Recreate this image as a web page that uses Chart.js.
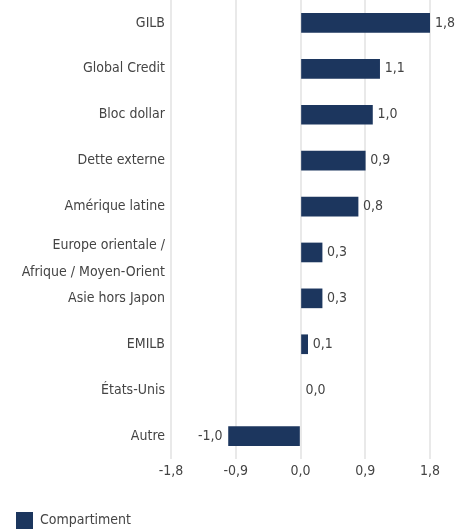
<!DOCTYPE html>
<html>
<head>
<meta charset="utf-8">
<script src="https://cdn.jsdelivr.net/npm/chart.js@4.4.1/dist/chart.umd.min.js"></script>
<style>
  html, body { margin: 0; padding: 0; background: #ffffff; }
  #wrap { width: 468px; height: 531px; position: relative; }
</style>
</head>
<body>
<div id="wrap"><canvas id="c"></canvas></div>
<script>
const categories = [
  'GILB',
  'Global Credit',
  'Bloc dollar',
  'Dette externe',
  'Amérique latine',
  ['', 'Europe orientale /', '', 'Afrique / Moyen-Orient'],
  'Asie hors Japon',
  'EMILB',
  'États-Unis',
  'Autre'
];
const compartiment = [1.8, 1.1, 1.0, 0.9, 0.8, 0.3, 0.3, 0.1, 0.0, -1.0];
const xTickValues = [-1.8, -0.9, 0.0, 0.9, 1.8];
const seriesName = 'Compartiment';

const FONT = "'Liberation Sans Narrow', 'Arial Narrow', 'DejaVu Sans Condensed', sans-serif";
const FSIZE = 14;
const TEXT = '#444444';
const BAR = '#1c365e';

function fmt(v) {
  return v.toFixed(1).replace('.', ',');
}

const valueLabels = {
  id: 'valueLabels',
  afterDatasetsDraw(chart) {
    const ctx = chart.ctx;
    ctx.save();
    ctx.font = FSIZE + 'px ' + FONT;
    ctx.fillStyle = TEXT;
    ctx.textBaseline = 'middle';
    chart.data.datasets.forEach((ds, di) => {
      const meta = chart.getDatasetMeta(di);
      meta.data.forEach((el, i) => {
        const v = ds.data[i];
        if (v < 0) {
          ctx.textAlign = 'right';
          ctx.fillText(fmt(v), el.x - 6, el.y);
        } else {
          ctx.textAlign = 'left';
          ctx.fillText(fmt(v), el.x + 5, el.y);
        }
      });
    });
    ctx.restore();
  }
};

new Chart(document.getElementById('c'), {
  type: 'bar',
  data: {
    labels: categories,
    datasets: [{
      label: seriesName,
      data: compartiment,
      backgroundColor: (c) => (c.raw === 0 ? 'rgba(0,0,0,0)' : BAR),
      borderWidth: 0,
      barThickness: 19
    }]
  },
  options: {
    indexAxis: 'y',
    responsive: true,
    maintainAspectRatio: false,
    animation: false,
    layout: { padding: { left: 14, right: 38, top: 0, bottom: -8 } },
    scales: {
      x: {
        min: -1.8,
        max: 1.8,
        afterBuildTicks(scale) {
          scale.ticks = xTickValues.map(v => ({ value: v }));
        },
        afterFit(scale) {
          scale.height = 51;
          scale.paddingLeft = 0;
          scale.paddingRight = 0;
        },
        grid: { color: '#e9e9e9', lineWidth: 2, drawTicks: false },
        border: { display: false },
        ticks: {
          padding: 4,
          color: TEXT,
          font: { family: FONT, size: FSIZE },
          callback: (v) => fmt(v)
        }
      },
      y: {
        afterFit(scale) {
          scale.width = 157;
          scale.paddingTop = 0;
          scale.paddingBottom = 0;
        },
        grid: { display: false, drawTicks: false },
        border: { display: false },
        ticks: {
          autoSkip: false,
          padding: 6,
          color: TEXT,
          font: (ctx) => ({
            family: FONT,
            size: FSIZE,
            lineHeight: ctx.index === 5 ? '13.25px' : 1.2
          })
        }
      }
    },
    plugins: {
      legend: {
        position: 'bottom',
        align: 'start',
        labels: {
          boxWidth: 17,
          boxHeight: 17,
          padding: 2,
          color: TEXT,
          font: { family: FONT, size: FSIZE }
        }
      },
      tooltip: { enabled: false }
    }
  },
  plugins: [valueLabels]
});
</script>
</body>
</html>
